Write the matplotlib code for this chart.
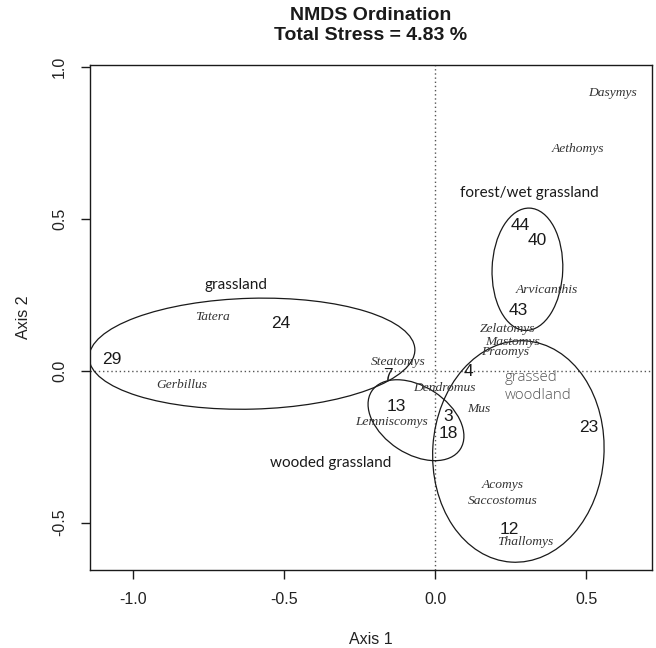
import matplotlib
matplotlib.use("Agg")
import matplotlib.pyplot as plt
from matplotlib.patches import Ellipse

# --- site scores (NMDS axis 1, axis 2) ---
site_labels = ["29", "24", "7", "13", "3", "18", "4", "23", "12", "43", "44", "40"]
site_x = [-1.071, -0.510, -0.157, -0.129, 0.044, 0.044, 0.110, 0.510, 0.246, 0.277, 0.281, 0.339]
site_y = [0.038, 0.155, -0.016, -0.117, -0.152, -0.207, -0.002, -0.186, -0.523, 0.197, 0.478, 0.428]

# --- species scores ---
species_names = ["Dasymys", "Aethomys", "Arvicanthis", "Zelatomys", "Mastomys", "Praomys",
                 "Tatera", "Gerbillus", "Steatomys", "Dendromus", "Lemniscomys", "Mus",
                 "Acomys", "Saccostomus", "Thallomys"]
species_x = [0.588, 0.473, 0.372, 0.241, 0.257, 0.232,
             -0.738, -0.840, -0.123, 0.032, -0.143, 0.145,
             0.223, 0.224, 0.300]
species_y = [0.913, 0.729, 0.266, 0.137, 0.093, 0.061,
             0.177, -0.047, 0.030, -0.057, -0.170, -0.127,
             -0.375, -0.428, -0.565]

# --- habitat group ellipses: centre, width, height, rotation (deg) ---
group_names = ["grassland", "forest/wet grassland", "wooded grassland", "grassed woodland"]
ell_cx = [-0.606, 0.306, -0.063, 0.276]
ell_cy = [0.056, 0.334, -0.163, -0.266]
ell_w = [1.079, 0.234, 0.350, 0.567]
ell_h = [0.365, 0.403, 0.222, 0.730]
ell_angle = [1.5, -2.0, -33.0, -3.8]

# --- group label positions ---
group_lx = [-0.660, 0.312, -0.346, 0.232]
group_ly = [0.283, 0.585, -0.303, -0.052]

stress = 4.83

W, H = 656, 648
fig = plt.figure(figsize=(W / 100, H / 100), dpi=100)
L, R, T, B = 90, 652, 65, 569.5
ax = fig.add_axes([L / W, 1 - B / H, (R - L) / W, (B - T) / H])
ax.set_xlim(-1.1424, 0.7185)
ax.set_ylim(-0.6546, 1.0066)

sans = "Liberation Sans"
serif = "Liberation Serif"
ink = "#1a1a1a"

# reference lines through the origin
ax.axhline(0, color="#555555", lw=1.0, ls=(0, (1, 2)), zorder=1)
ax.axvline(0, color="#555555", lw=1.0, ls=(0, (1, 2)), zorder=1)

for cx, cy, w, h, a in zip(ell_cx, ell_cy, ell_w, ell_h, ell_angle):
    ax.add_patch(Ellipse((cx, cy), w, h, angle=a, fill=False, ec=ink, lw=0.9, zorder=2))

for lab, x, y in zip(site_labels, site_x, site_y):
    ax.text(x, y, lab, ha="center", va="center", fontsize=12.5, family=sans, color=ink, zorder=3)

for name, x, y in zip(species_names, species_x, species_y):
    ax.text(x, y, name, ha="center", va="center", fontsize=9.7, family=serif,
            style="italic", color="#333333", zorder=3)

for name, x, y in zip(group_names, group_lx, group_ly):
    if name == "grassed woodland":
        ax.text(x, y, "grassed\nwoodland", ha="left", va="center", fontsize=10.8,
                family="Open Sans", fontweight="light", color="#555555",
                linespacing=1.25, zorder=3)
    else:
        ax.text(x, y, name, ha="center", va="center", fontsize=11, family="Lato",
                color=ink, zorder=3)

# axes styling in the base-R look
for s in ax.spines.values():
    s.set_color(ink)
    s.set_linewidth(1.0)
ax.set_xticks([-1.0, -0.5, 0.0, 0.5])
ax.set_yticks([-0.5, 0.0, 0.5, 1.0])
ax.set_xticklabels(["-1.0", "-0.5", "0.0", "0.5"])
ax.set_yticklabels(["-0.5", "0.0", "0.5", "1.0"], rotation=90, va="center")
ax.tick_params(direction="out", length=6.5, width=1.0, color=ink, labelsize=11.5,
               labelcolor="#222222", pad=10)
for lbl in ax.get_xticklabels() + ax.get_yticklabels():
    lbl.set_family(sans)

ax.set_xlabel("Axis 1", fontsize=11.5, family=sans, color="#222222", va="center")
ax.set_ylabel("Axis 2", fontsize=11.5, family=sans, color="#222222", va="center")
ax.xaxis.set_label_coords(0.5, (B - 639) / (B - T))
ax.yaxis.set_label_coords((23 - L) / (R - L), 0.5)

fig.text(371 / W, 1 - 16 / H, "NMDS Ordination", ha="center", va="center",
         fontsize=14, fontweight="bold", family=sans, color=ink)
fig.text(371 / W, 1 - 35 / H, f"Total Stress = {stress:.2f} %", ha="center", va="center",
         fontsize=14, fontweight="bold", family=sans, color=ink)

fig.savefig("out.png", dpi=100)
